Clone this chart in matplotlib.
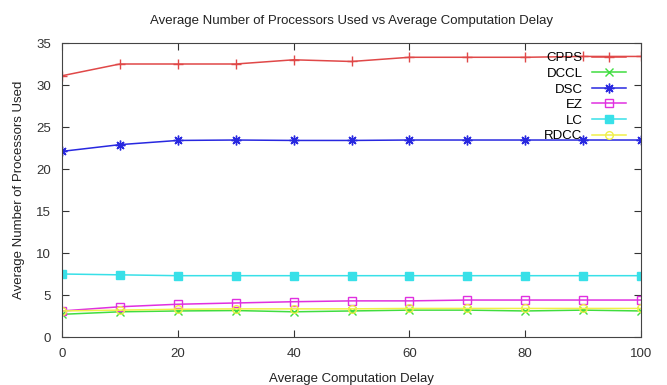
import matplotlib
matplotlib.use("Agg")
import matplotlib.pyplot as plt

# data
delay = [0, 10, 20, 30, 40, 50, 60, 70, 80, 90, 100]

cpps = [31.1, 32.5, 32.5, 32.5, 33.0, 32.8, 33.3, 33.3, 33.3, 33.4, 33.4]
dccl = [2.7, 3.0, 3.1, 3.15, 3.0, 3.1, 3.2, 3.2, 3.1, 3.2, 3.1]
dsc = [22.1, 22.9, 23.4, 23.45, 23.4, 23.4, 23.45, 23.45, 23.45, 23.45, 23.45]
ez = [3.1, 3.6, 3.9, 4.05, 4.2, 4.3, 4.3, 4.4, 4.4, 4.4, 4.4]
lc = [7.5, 7.4, 7.3, 7.3, 7.3, 7.3, 7.3, 7.3, 7.3, 7.3, 7.3]
rdcc = [3.1, 3.2, 3.3, 3.35, 3.35, 3.35, 3.4, 3.4, 3.4, 3.4, 3.4]

plt.rcParams["font.family"] = ["Liberation Sans", "DejaVu Sans"]
plt.rcParams["font.size"] = 9.5

fig = plt.figure(figsize=(6.67, 3.85), dpi=100)
ax = fig.add_axes([62 / 667, 1 - 337 / 385, (641 - 62) / 667, (337 - 43) / 385])

ax.plot(delay, cpps, color="#e04848", lw=1.1, marker="+", ms=7, mew=1, label="CPPS")
ax.plot(delay, dccl, color="#40dd40", lw=1.1, marker="x", ms=5.5, mew=1, label="DCCL")
ax.plot(delay, dsc, color="#2828e0", lw=1.1, marker=(8, 2, 0), ms=7, mew=1, label="DSC")
ax.plot(delay, ez, color="#e030e0", lw=1.1, marker="s", ms=5.5, mew=1, mfc="none", label="EZ")
ax.plot(delay, lc, color="#38e0e8", lw=1.1, marker="s", ms=5.5, label="LC")
ax.plot(delay, rdcc, color="#f0f048", lw=1.1, marker="o", ms=5.5, mew=1, mfc="none", label="RDCC")

ax.set_xlim(0, 100)
ax.set_ylim(0, 35)
ax.set_xticks(range(0, 101, 20))
ax.set_yticks(range(0, 36, 5))
ax.tick_params(direction="in", top=True, right=True, length=5, pad=8, colors="#333333")
for s in ax.spines.values():
    s.set_color("#444444")

ax.set_title("Average Number of Processors Used vs Average Computation Delay", fontsize=9.5, pad=14, color="#222222")
ax.set_xlabel("Average Computation Delay", labelpad=9, color="#222222")
ax.set_ylabel("Average Number of Processors Used", labelpad=8, color="#222222")

ax.legend(loc="upper right", bbox_to_anchor=(0.99, 1.0), frameon=False, markerfirst=False,
          handlelength=2.6, labelspacing=0.25, borderaxespad=0.3, borderpad=0.4, handletextpad=0.7)

fig.savefig("out.png", dpi=100)
